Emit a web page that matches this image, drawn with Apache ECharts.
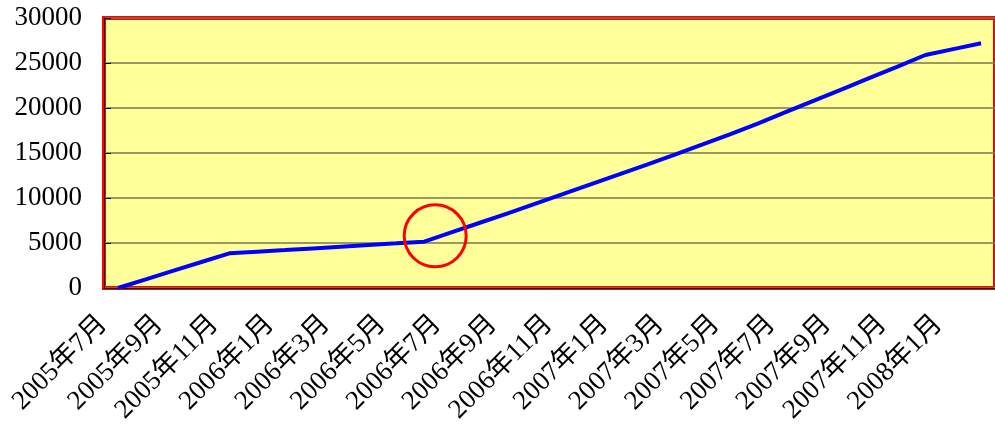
<!DOCTYPE html>
<html>
<head>
<meta charset="utf-8">
<script src="https://cdn.jsdelivr.net/npm/echarts@6/dist/echarts.min.js"></script>
<style>
  html, body { margin: 0; padding: 0; background: #fff; }
  #chart { width: 995px; height: 427px; }
</style>
</head>
<body>
<div id="chart"></div>
<script>
// 月份（2005年7月 ~ 2008年2月）
const months = [
  '2005年7月', '2005年8月', '2005年9月', '2005年10月', '2005年11月', '2005年12月',
  '2006年1月', '2006年2月', '2006年3月', '2006年4月', '2006年5月', '2006年6月',
  '2006年7月', '2006年8月', '2006年9月', '2006年10月', '2006年11月', '2006年12月',
  '2007年1月', '2007年2月', '2007年3月', '2007年4月', '2007年5月', '2007年6月',
  '2007年7月', '2007年8月', '2007年9月', '2007年10月', '2007年11月', '2007年12月',
  '2008年1月', '2008年2月'
]

// 累计数值
const values = [
  0, 960, 1930, 2890, 3850, 4030,
  4210, 4400, 4590, 4780, 4960, 5150,
  6200, 7250, 8300, 9380, 10450, 11530,
  12620, 13720, 14830, 15960, 17100, 18300,
  19560, 20820, 22080, 23340, 24600, 25890,
  26540, 27190
]

const yTicks = [0, 5000, 10000, 15000, 20000, 25000, 30000]

// 红圈标注的位置
const circleAt = ['2006年6月', 5800]

const labelFont = "'Liberation Serif', 'Noto Sans CJK SC', serif"

const chart = echarts.init(document.getElementById('chart'))

chart.setOption({
  backgroundColor: '#fff',
  animation: false,
  grid: {
    left: 104,
    right: -5,
    top: 18,
    bottom: 139,
    show: true,
    backgroundColor: '#FFFF99',
    borderColor: '#FF0000',
    borderWidth: 4
  },
  xAxis: {
    type: 'category',
    data: months,
    boundaryGap: true,
    axisLine: { lineStyle: { color: '#000', width: 1 } },
    axisTick: { interval: 1, inside: true, length: 6, lineStyle: { color: '#000' } },
    axisLabel: {
      interval: 1,
      rotate: 45,
      margin: 17,
      padding: [0, 21, 0, 0],
      color: '#000',
      fontSize: 27,
      fontFamily: labelFont
    },
    splitLine: { show: false }
  },
  yAxis: {
    type: 'value',
    min: yTicks[0],
    max: yTicks[yTicks.length - 1],
    interval: 5000,
    axisLine: { show: true, lineStyle: { color: '#000', width: 1 } },
    axisTick: { show: true, inside: true, length: 7, lineStyle: { color: '#000' } },
    axisLabel: {
      margin: 22,
      color: '#000',
      fontSize: 27,
      fontFamily: labelFont,
      formatter: v => String(v)
    },
    splitLine: { show: true, lineStyle: { color: '#77774f', width: 1.5 } }
  },
  series: [
    {
      type: 'line',
      data: values,
      symbol: 'none',
      lineStyle: { color: '#0000FF', width: 4 },
      markPoint: {
        symbol: 'circle',
        symbolSize: 62,
        symbolOffset: [11, 0],
        silent: true,
        label: { show: false },
        itemStyle: { color: 'rgba(0,0,0,0)', borderColor: '#FF0000', borderWidth: 3 },
        data: [{ coord: circleAt }]
      }
    }
  ]
})
</script>
</body>
</html>
